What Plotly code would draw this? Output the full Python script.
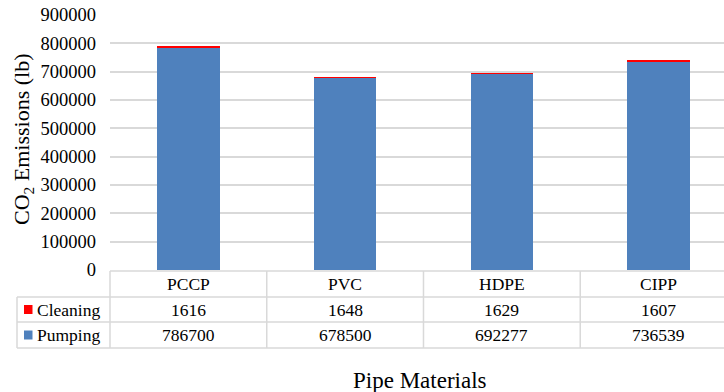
import plotly.graph_objects as go

materials = ["PCCP", "PVC", "HDPE", "CIPP"]
cleaning = [1616, 1648, 1629, 1607]
pumping = [786700, 678500, 692277, 736539]
series_names = ["Cleaning", "Pumping"]
y_ticks = [0, 100000, 200000, 300000, 400000, 500000, 600000, 700000, 800000, 900000]

W, H = 724, 392
ML, MR, MT, MB = 110, 0, 15, 122
PW, PH = W - ML - MR, H - MT - MB
XR = [-0.5, 3.5 - 13 / 157]

BLUE = "#4f81bd"
RED = "#ff0000"
GRID = "#d9d9d9"
FONT = "'Times New Roman', 'Liberation Serif', 'DejaVu Serif', serif"


def px2paper_x(px):
    return (px - ML) / PW


def px2paper_y(py):
    return (MT + PH - py) / PH


fig = go.Figure()
fig.add_trace(go.Bar(x=materials, y=pumping, name=series_names[1], marker_color=BLUE,
                     marker_line_width=0, width=0.4))
fig.add_trace(go.Bar(x=materials, y=cleaning, name=series_names[0], marker_color=RED,
                     marker_line_width=0, width=0.4))

shapes = []
ann = []

row_lines = [271, 297, 322, 348]
left_edge = 17
for i, ry in enumerate(row_lines):
    x0 = 0 if i == 0 else px2paper_x(left_edge)
    shapes.append(dict(type="line", xref="paper", yref="paper", x0=x0, x1=1,
                       y0=px2paper_y(ry), y1=px2paper_y(ry), line=dict(color=GRID, width=1.5)))
shapes.append(dict(type="line", xref="paper", yref="paper", x0=0, x1=0,
                   y0=px2paper_y(row_lines[0]), y1=px2paper_y(row_lines[-1]),
                   line=dict(color=GRID, width=1.5)))
shapes.append(dict(type="line", xref="paper", yref="paper", x0=px2paper_x(left_edge), x1=px2paper_x(left_edge),
                   y0=px2paper_y(row_lines[1]), y1=px2paper_y(row_lines[-1]),
                   line=dict(color=GRID, width=1.5)))
for b in [0.5, 1.5, 2.5]:
    shapes.append(dict(type="line", xref="x", yref="paper", x0=b, x1=b,
                       y0=px2paper_y(row_lines[0]), y1=px2paper_y(row_lines[-1]),
                       line=dict(color=GRID, width=1.5)))

for (yc, col) in [((row_lines[1] + row_lines[2]) / 2, RED), ((row_lines[2] + row_lines[3]) / 2, BLUE)]:
    shapes.append(dict(type="rect", xref="paper", yref="paper",
                       x0=px2paper_x(24), x1=px2paper_x(32.5),
                       y0=px2paper_y(yc - 4.5), y1=px2paper_y(yc + 4.5),
                       fillcolor=col, line=dict(width=0)))

tf = dict(family=FONT, size=17.5, color="black")
hdr_y = px2paper_y((row_lines[0] + row_lines[1]) / 2)
r1_y = px2paper_y((row_lines[1] + row_lines[2]) / 2)
r2_y = px2paper_y((row_lines[2] + row_lines[3]) / 2)
common = dict(showarrow=False, xanchor="center", yanchor="middle", font=tf)
for m, c, p in zip(materials, cleaning, pumping):
    ann.append(dict(x=m, xref="x", y=hdr_y, yref="paper", text=m, **common))
    ann.append(dict(x=m, xref="x", y=r1_y, yref="paper", text=str(c), **common))
    ann.append(dict(x=m, xref="x", y=r2_y, yref="paper", text=str(p), **common))
ann.append(dict(x=px2paper_x(35), xref="paper", y=r1_y, yref="paper", text=series_names[0],
                xanchor="left", yanchor="middle", showarrow=False, font=tf))
ann.append(dict(x=px2paper_x(35), xref="paper", y=r2_y, yref="paper", text=series_names[1],
                xanchor="left", yanchor="middle", showarrow=False, font=tf))

ann.append(dict(x=px2paper_x(23), xref="paper", y=px2paper_y(139), yref="paper",
                text="CO<sub>2</sub> Emissions (lb)", textangle=-90, showarrow=False,
                xanchor="center", yanchor="middle",
                font=dict(family=FONT, size=22, color="black")))
ann.append(dict(x=px2paper_x(420), xref="paper", y=px2paper_y(380), yref="paper",
                text="Pipe Materials", showarrow=False, xanchor="center", yanchor="middle",
                font=dict(family=FONT, size=23, color="black")))

fig.update_layout(
    width=W, height=H,
    margin=dict(l=ML, r=MR, t=MT, b=MB, pad=0),
    barmode="stack",
    showlegend=False,
    plot_bgcolor="white", paper_bgcolor="white",
    shapes=shapes, annotations=ann,
    xaxis=dict(range=XR, showticklabels=False, showgrid=False, zeroline=False,
               showline=False, ticks=""),
    yaxis=dict(range=[0, 900000], tickvals=y_ticks, ticktext=[str(v) for v in y_ticks],
               showgrid=True, gridcolor=GRID, gridwidth=1.5, zeroline=False, showline=False,
               ticks="", ticklabelstandoff=13,
               tickfont=dict(family=FONT, size=18.5, color="black")),
)

fig.write_html("out.html", config={"displayModeBar": False},
               post_script="document.body.style.margin='0';document.body.style.overflow='hidden';")
